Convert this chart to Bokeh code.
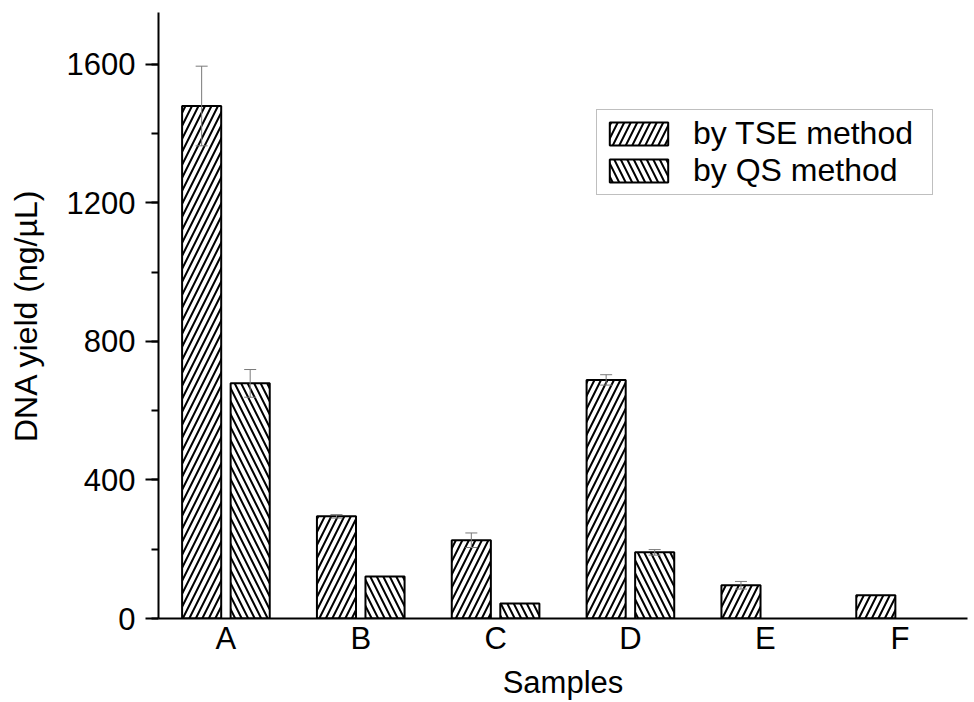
import math
from bokeh.plotting import figure
from bokeh.models import (Range1d, FixedTicker, SingleIntervalTicker, Whisker, TeeHead,
                          ColumnDataSource, Legend, LegendItem)
from bokeh.embed import file_html
from bokeh.resources import INLINE

nan = float("nan")
samples = ["A", "B", "C", "D", "E", "F"]
tse = [1480, 295, 226, 689, 96, 67]
tse_err = [115, 5, 21, 15, 11, 0]
qs = [679, 121, 43, 191, nan, nan]
qs_err = [40, 0, 0, 8, 0, 0]
y_title = "DNA yield (ng/µL)"
x_title = "Samples"

FONT = "Liberation Sans"
OFF = 0.18
W = 0.29

pos = list(range(1, len(samples) + 1))

p = figure(width=970, height=702, output_backend="svg", toolbar_location=None,
           x_range=Range1d(0.5, len(samples) + 0.5), y_range=Range1d(0, 1750),
           min_border_left=158, min_border_right=3, min_border_top=12, min_border_bottom=83)
p.outline_line_color = None
p.xgrid.visible = False
p.ygrid.visible = False
p.background_fill_color = "white"
p.border_fill_color = "white"

src_t = ColumnDataSource(dict(x=[v - OFF for v in pos], top=tse,
                              upper=[a + e for a, e in zip(tse, tse_err)],
                              lower=[a - e for a, e in zip(tse, tse_err)], err=tse_err))
src_q = ColumnDataSource(dict(x=[v + OFF for v in pos], top=qs,
                              upper=[a + e for a, e in zip(qs, qs_err)],
                              lower=[a - e for a, e in zip(qs, qs_err)], err=qs_err))

common = dict(width=W, bottom=0, fill_color="white", line_color="black", line_width=2,
              hatch_color="black", hatch_weight=2, hatch_scale=13)
r1 = p.vbar(x="x", top="top", source=src_t, hatch_pattern="right_diagonal_line", **common)
r2 = p.vbar(x="x", top="top", source=src_q, hatch_pattern="left_diagonal_line", **common)

def whisk(src):
    d = src.data
    keep = [i for i, e in enumerate(d["err"]) if e and not math.isnan(e) and not math.isnan(d["top"][i])]
    s = ColumnDataSource(dict(x=[d["x"][i] for i in keep], upper=[d["upper"][i] for i in keep],
                              lower=[d["lower"][i] for i in keep]))
    w = Whisker(source=s, base="x", upper="upper", lower="lower", line_color="#7a7a7a", line_width=1,
                upper_head=TeeHead(size=12, line_color="#7a7a7a", line_width=1),
                lower_head=TeeHead(size=12, line_color="#7a7a7a", line_width=1), level="overlay")
    p.add_layout(w)

whisk(src_t)
whisk(src_q)

# axes
xa = p.xaxis[0]
xa.ticker = FixedTicker(ticks=pos)
xa.major_label_overrides = {v: s for v, s in zip(pos, samples)}
xa.major_tick_out = 0
xa.major_tick_in = 0
xa.minor_tick_out = 0
xa.minor_tick_in = 0
xa.axis_label = x_title

ya = p.yaxis[0]
ya.ticker = SingleIntervalTicker(interval=400, num_minor_ticks=2)
ya.major_tick_out = 13
ya.major_tick_in = 0
ya.minor_tick_out = 7
ya.minor_tick_in = 0
ya.axis_label = y_title

for ax in (xa, ya):
    ax.axis_line_width = 2
    ax.axis_line_color = "black"
    ax.major_tick_line_width = 2
    ax.minor_tick_line_width = 2
    ax.major_label_text_font = FONT
    ax.major_label_text_font_size = "31px"
    ax.major_label_text_color = "black"
    ax.axis_label_text_font = FONT
    ax.axis_label_text_font_size = "31px"
    ax.axis_label_text_font_style = "normal"
    ax.axis_label_text_color = "black"
ya.axis_label_text_font_size = "32px"
ya.major_label_standoff = 10
ya.axis_label_standoff = 20
xa.major_label_standoff = 2
xa.axis_label_standoff = 6

legend = Legend(items=[LegendItem(label="by TSE method", renderers=[r1]),
                       LegendItem(label="by QS method", renderers=[r2])],
                location=(438, 423), glyph_width=73, glyph_height=29, label_height=29,
                label_width=234, label_standoff=18, spacing=0, padding=5, margin=0,
                border_line_color="#808080", border_line_width=1,
                label_text_font=FONT, label_text_font_size="32px", label_text_color="black",
                background_fill_color="white")
p.add_layout(legend)

open("out.html", "w").write(file_html(p, INLINE))
